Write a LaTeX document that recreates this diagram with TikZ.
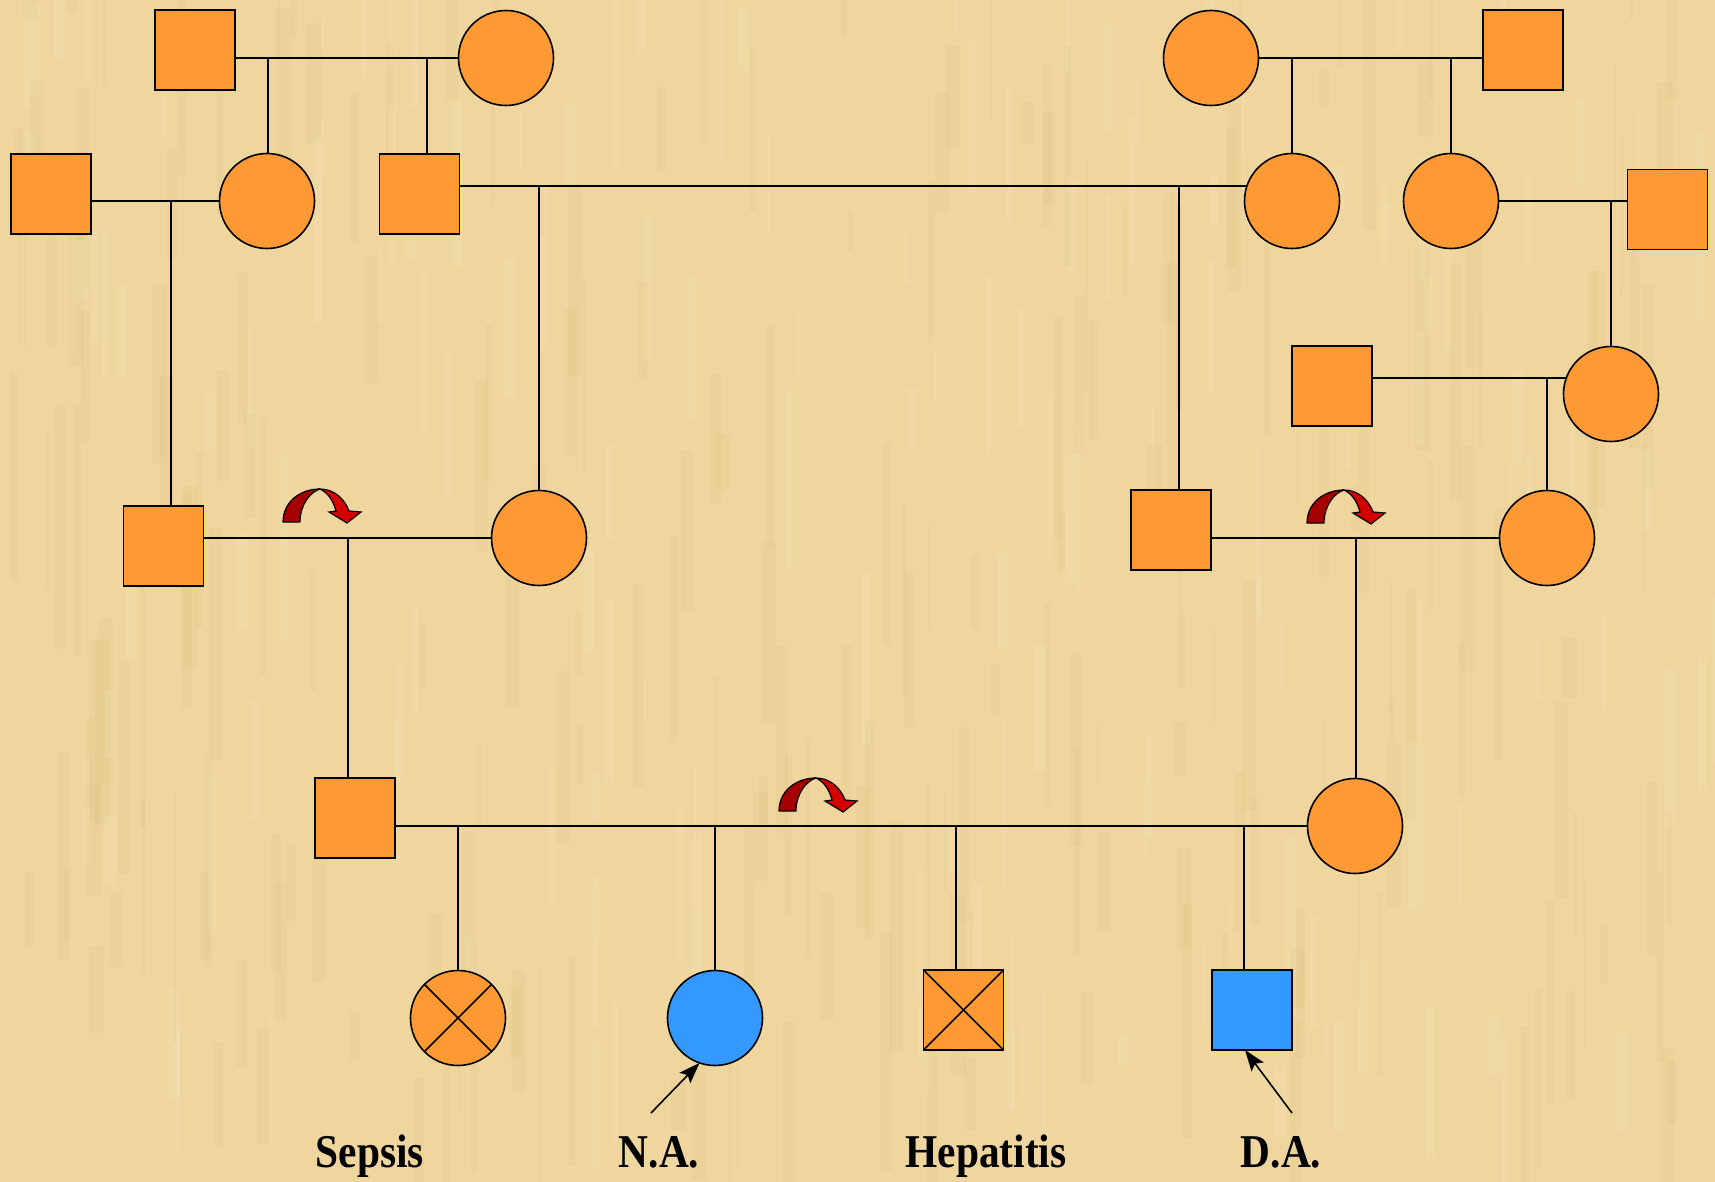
\documentclass[tikz,border=0pt]{standalone}
\usepackage{fontspec}
\setmainfont{Liberation Serif}
\usetikzlibrary{arrows.meta,calc}
\pgfdeclarelayer{bg}\pgfdeclarelayer{edges}
\pgfsetlayers{bg,edges,main}
\definecolor{parch}{RGB}{238,214,158}
\definecolor{streakdark}{RGB}{214,184,118}
\definecolor{streaklight}{RGB}{250,236,198}
\definecolor{orng}{RGB}{255,153,51}
\definecolor{blu}{RGB}{51,153,255}
\definecolor{deepred}{RGB}{165,0,0}
\definecolor{brightred}{RGB}{212,0,0}
\tikzset{
  male/.style={draw=black,line width=1.6pt,fill=orng,minimum size=80pt,inner sep=0pt,outer sep=0pt},
  female/.style={circle,draw=black,line width=1.6pt,fill=orng,minimum size=95pt,inner sep=0pt,outer sep=0pt},
  link/.style={line width=1.6pt,draw=black},
  pointer/.style={line width=1.6pt,draw=black,-{Stealth[length=21pt,width=15pt,inset=4pt]}},
  lbl/.style={font=\bfseries\fontsize{47}{50}\selectfont,xscale=0.88,anchor=base,inner sep=0pt},
  uarrow/.pic={
    \filldraw[fill=deepred,draw=black,line width=1.2pt,line join=round]
      (0,0) .. controls (0,-20) and (17,-33) .. (37,-33)
      .. controls (27,-30) and (17,-17) .. (17,0) -- cycle;
    \filldraw[fill=brightred,draw=black,line width=1.2pt,line join=miter]
      (37,-33) .. controls (52,-33) and (62,-22) .. (66,-11)
      -- (78,-10) -- (64,1) -- (46,-10) -- (53,-11)
      .. controls (50,-22) and (45,-29) .. (37,-33) -- cycle;
  }
}
\begin{document}
\begin{tikzpicture}[x=1pt,y=-1pt]
\useasboundingbox (0,0) rectangle (1715,1182);
\begin{pgfonlayer}{bg}
\fill[parch] (0,0) rectangle (1715,1182);
\pgfmathsetseed{3}
\foreach \i in {1,...,220}{
  \pgfmathsetmacro{\xa}{rnd*1715}
  \pgfmathsetmacro{\ya}{rnd*1182-100}
  \pgfmathsetmacro{\ww}{2+rnd*14}
  \pgfmathsetmacro{\hh}{40+rnd*220}
  \fill[streakdark,opacity=0.13] (\xa,\ya) rectangle ++(\ww,\hh);
}
\foreach \i in {1,...,160}{
  \pgfmathsetmacro{\xa}{rnd*1715}
  \pgfmathsetmacro{\ya}{rnd*1182-100}
  \pgfmathsetmacro{\ww}{2+rnd*10}
  \pgfmathsetmacro{\hh}{30+rnd*160}
  \fill[streaklight,opacity=0.18] (\xa,\ya) rectangle ++(\ww,\hh);
}
\end{pgfonlayer}

% individuals
\node[male] (s1) at (195,50) {};
\node[female] (c1) at (506,58) {};
\node[female] (c2) at (1211,58) {};
\node[male] (s2) at (1523,50) {};
\node[male] (s3) at (51,194) {};
\node[female] (c3) at (267,201) {};
\node[male] (s4) at (419.5,194) {};
\node[female] (c4) at (1292,201) {};
\node[female] (c5) at (1451,201) {};
\node[male] (s5) at (1667.5,209.5) {};
\node[male] (s6) at (1332,386) {};
\node[female] (c6) at (1611,394) {};
\node[male] (s7) at (163.5,546) {};
\node[female] (c7) at (539,538) {};
\node[male] (s8) at (1171,530) {};
\node[female] (c8) at (1547,538) {};
\node[male] (s9) at (355,818) {};
\node[female] (c9) at (1355,826) {};
\node[female] (k1) at (458,1018) {};
\node[female,fill=blu] (k2) at (715,1018) {};
\node[male] (k3) at (963.5,1010) {};
\node[male,fill=blu] (k4) at (1252,1010) {};

\draw[link] (k1.45) -- (k1.225) (k1.135) -- (k1.315);
\draw[link] (k3.north west) -- (k3.south east) (k3.north east) -- (k3.south west);

% junctions
\coordinate (j1) at (268,58);
\coordinate (j2) at (427,58);
\coordinate (j3) at (1292,58);
\coordinate (j4) at (1451,58);
\coordinate (j5) at (171,201);
\coordinate (j6) at (539,186);
\coordinate (j7) at (1179,186);
\coordinate (j8) at (1611,201);
\coordinate (j9) at (1547,378);
\coordinate (j10) at (348,538);
\coordinate (j11) at (1356,538);
\coordinate (j12) at (458,826);
\coordinate (j13) at (715,826);
\coordinate (j14) at (956,826);
\coordinate (j15) at (1244,826);

\begin{pgfonlayer}{edges}
\draw[link] (s1 |- c1) -- (c1);
\draw[link] (j1) -- (j1 |- c3);
\draw[link] (j2) -- (j2 |- s4);
\draw[link] (c2) -- (s2 |- c2);
\draw[link] (j3) -- (j3 |- c4);
\draw[link] (j4) -- (j4 |- c5);
\draw[link] (s3 |- c3) -- (c3);
\draw[link] (j5) -- (j5 |- s7);
\draw[link] (s4 |- j6) -- (c4 |- j6);
\draw[link] (j6) -- (j6 |- c7);
\draw[link] (j7) -- (j7 |- s8);
\draw[link] (c5) -- (s5 |- c5);
\draw[link] (j8) -- (j8 |- c6);
\draw[link] (s6 |- j9) -- (c6 |- j9);
\draw[link] (j9) -- (j9 |- c8);
\draw[link] (s7 |- c7) -- (c7);
\draw[link] (j10) -- (j10 |- s9);
\draw[link] (s8 |- c8) -- (c8);
\draw[link] (j11) -- (j11 |- c9);
\draw[link] (s9 |- c9) -- (c9);
\draw[link] (j12) -- (j12 |- k1);
\draw[link] (j13) -- (j13 |- k2);
\draw[link] (j14) -- (j14 |- k3);
\draw[link] (j15) -- (j15 |- k4);
\end{pgfonlayer}

% curved arrows
\pic (arrL) at (283,522) {uarrow};
\pic (arrR) at (1307,523) {uarrow};
\pic (arrM) at (779,811) {uarrow};

% pointers
\coordinate (natail) at (651,1113);
\coordinate (datail) at (1292,1113);
\draw[pointer] (natail) -- (k2.-109);
\draw[pointer] (datail) -- ($(k4.south)+(-7,0)$);

% labels
\node[lbl] (l1) at (370,1167) {Sepsis};
\node[lbl] (l2) at (659,1167) {N.A.};
\node[lbl] (l3) at (986,1167) {Hepatitis};
\node[lbl] (l4) at (1281,1167) {D.A.};
\end{tikzpicture}
\end{document}
